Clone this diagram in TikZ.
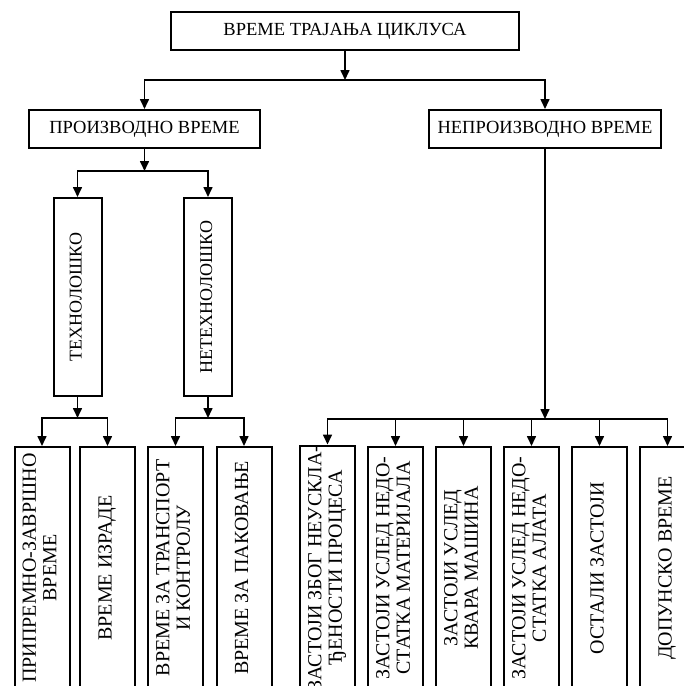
\documentclass[tikz,border=0pt]{standalone}
\usepackage{fontspec}
\setmainfont{Liberation Serif}
\usetikzlibrary{arrows.meta}
\newcommand\rottext[1]{\rotatebox{90}{\begin{tabular}{@{}c@{}}#1\end{tabular}}}
\begin{document}
\begin{tikzpicture}[x=1pt,y=-1pt,
  box/.style={draw, line width=2pt, inner sep=0pt, font=\fontsize{18.5}{20}\selectfont, align=center},
  hbox/.style={box, minimum height=38pt},
  tbox/.style={box, font=\fontsize{18}{20}\selectfont, minimum width=48pt, minimum height=198pt},
  vbox/.style={box, font=\fontsize{20}{20.5}\selectfont, minimum width=55pt, minimum height=242pt},
  conn/.style={line width=1.6pt, line cap=rect},
  arr/.style={line width=1.6pt, -{Triangle[length=10pt,width=9pt]}}
]
\useasboundingbox (0,0) rectangle (684,686);
\fill[white] (0,0) rectangle (684,686);
\clip (0,0) rectangle (684,686);

% level 0 and 1
\node[hbox, minimum width=348pt] (top) at (345,31) {ВРЕМЕ ТРАЈАЊА ЦИКЛУСА};
\node[hbox, minimum width=231pt] (prod) at (144.5,129) {ПРОИЗВОДНО ВРЕМЕ};
\node[hbox, minimum width=232pt] (neprod) at (545,129) {НЕПРОИЗВОДНО ВРЕМЕ};

% level 2
\node[tbox] (teh) at (77.5,297) {\rottext{ТЕХНОЛОШКО}};
\node[tbox] (neteh) at (208,297) {\rottext{НЕТЕХНОЛОШКО}};

% level 3, productive
\node[vbox] (b1) at (42,568) {\rottext{ПРИПРЕМНО-ЗАВРШНО\\ВРЕМЕ}};
\node[vbox] (b2) at (107.5,568) {\rottext{ВРЕМЕ ИЗРАДЕ}};
\node[vbox] (b3) at (175.5,568) {\rottext{ВРЕМЕ ЗА ТРАНСПОРТ\\И КОНТРОЛУ}};
\node[vbox] (b4) at (244,568) {\rottext{ВРЕМЕ ЗА ПАКОВАЊЕ}};

% level 3, non-productive
\node[vbox] (r1) at (327.5,568) {\rottext{ЗАСТОЈИ ЗБОГ НЕУСКЛА-\\ЂЕНОСТИ ПРОЦЕСА}};
\node[vbox] (r2) at (395.5,568) {\rottext{ЗАСТОЈИ УСЛЕД НЕДО-\\СТАТКА МАТЕРИЈАЛА}};
\node[vbox] (r3) at (463.5,568) {\rottext{ЗАСТОЈИ УСЛЕД\\КВАРА МАШИНА}};
\node[vbox] (r4) at (531.5,568) {\rottext{ЗАСТОЈИ УСЛЕД НЕДО-\\СТАТКА АЛАТА}};
\node[vbox] (r5) at (599.5,568) {\rottext{ОСТАЛИ ЗАСТОЈИ}};
\node[vbox] (r6) at (667.5,568) {\rottext{ДОПУНСКО ВРЕМЕ}};

% connectors: top
\coordinate (j0) at (345,80);
\draw[arr] (top.south) -- (j0);
\draw[conn] (prod.north |- j0) -- (neprod.north |- j0);
\draw[arr] (prod.north |- j0) -- (prod.north);
\draw[arr] (neprod.north |- j0) -- (neprod.north);

% productive
\coordinate (j1) at (144.5,171);
\draw[arr] (prod.south) -- (j1);
\draw[conn] (teh.north |- j1) -- (neteh.north |- j1);
\draw[arr] (teh.north |- j1) -- (teh.north);
\draw[arr] (neteh.north |- j1) -- (neteh.north);

\coordinate (j2) at (77.5,418);
\draw[arr] (teh.south) -- (j2);
\draw[conn] (b1.north |- j2) -- (b2.north |- j2);
\draw[arr] (b1.north |- j2) -- (b1.north);
\draw[arr] (b2.north |- j2) -- (b2.north);

\coordinate (j3) at (208,418);
\draw[arr] (neteh.south) -- (j3);
\draw[conn] (b3.north |- j3) -- (b4.north |- j3);
\draw[arr] (b3.north |- j3) -- (b3.north);
\draw[arr] (b4.north |- j3) -- (b4.north);

% non-productive
\coordinate (j4) at (545,419);
\draw[arr] (neprod.south) -- (j4);
\draw[conn] (r1.north |- j4) -- (r6.north |- j4);
\foreach \n in {r1,r2,r3,r4,r5,r6}
  \draw[arr] (\n.north |- j4) -- (\n.north);
\end{tikzpicture}
\end{document}
